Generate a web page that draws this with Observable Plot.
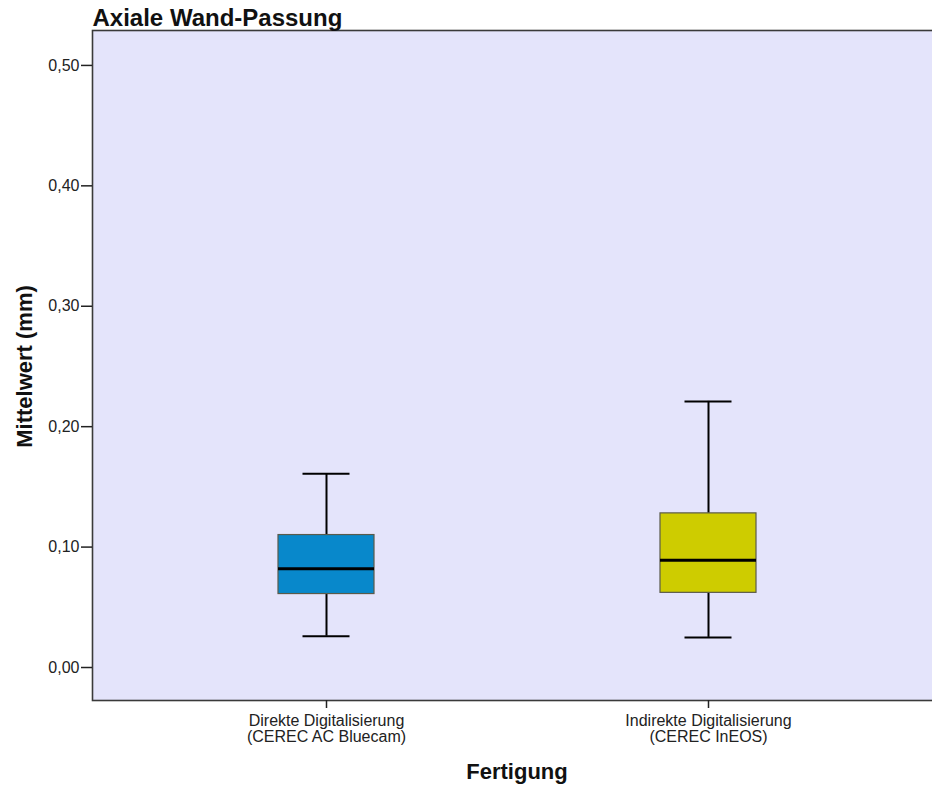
<!DOCTYPE html>
<html>
<head>
<meta charset="utf-8">
<script src="https://cdn.jsdelivr.net/npm/d3@7"></script>
<script src="https://cdn.jsdelivr.net/npm/@observablehq/plot@0.6"></script>
<style>
html, body { margin: 0; padding: 0; overflow: hidden; background: white; }
#chart { width: 932px; height: 790px; overflow: hidden; }
#chart svg { max-width: none !important; }
</style>
</head>
<body>
<div id="chart"></div>
<script>
const title = "Axiale Wand-Passung";
const yLabel = "Mittelwert (mm)";
const xLabel = "Fertigung";
const categories = ["Direkte Digitalisierung\n(CEREC AC Bluecam)", "Indirekte Digitalisierung\n(CEREC InEOS)"];
const mins = [0.026, 0.025];
const q1s = [0.061, 0.062];
const medians = [0.082, 0.089];
const q3s = [0.110, 0.128];
const maxs = [0.161, 0.221];
const colors = ["#0888cb", "#cecc00"];
const yTicks = [0, 0.1, 0.2, 0.3, 0.4, 0.5];

const data = categories.map((c, i) => ({cat: c, min: mins[i], q1: q1s[i], med: medians[i], q3: q3s[i], max: maxs[i], color: colors[i]}));

const chart = Plot.plot({
  width: 942,
  height: 790,
  marginTop: 30,
  marginBottom: 90,
  marginLeft: 92,
  marginRight: 1,
  style: {fontFamily: "'Liberation Sans', Arial, sans-serif", fontSize: "16px", background: "white", color: "#222", maxWidth: "none"},
  x: {domain: categories, paddingInner: 0.749, paddingOuter: 0.483, label: null},
  y: {domain: [-0.0274, 0.529], label: null},
  color: {type: "identity"},
  marks: [
    Plot.frame({fill: "#e4e4fb"}),
    Plot.ruleX(data, {x: "cat", y1: "min", y2: "q1", stroke: "black", strokeWidth: 2}),
    Plot.ruleX(data, {x: "cat", y1: "q3", y2: "max", stroke: "black", strokeWidth: 2}),
    Plot.tickY(data, {x: "cat", y: "min", stroke: "black", strokeWidth: 2, insetLeft: 24.5, insetRight: 24.5}),
    Plot.tickY(data, {x: "cat", y: "max", stroke: "black", strokeWidth: 2, insetLeft: 24.5, insetRight: 24.5}),
    Plot.barY(data, {x: "cat", y1: "q1", y2: "q3", fill: "color", stroke: "#5a5a4a", strokeWidth: 1.2}),
    Plot.tickY(data, {x: "cat", y: "med", stroke: "black", strokeWidth: 3}),
    Plot.frame({stroke: "#3a3a3a", strokeWidth: 1.6}),
    Plot.axisY({ticks: yTicks, tickFormat: d => d.toFixed(2).replace(".", ","), tickSize: 11, tickPadding: 2, label: null, stroke: "#222", strokeWidth: 1.5, fontSize: 16}),
    Plot.axisX({tickSize: 8, tickPadding: 6, label: null, stroke: "#222", strokeWidth: 1.5, fontSize: 16, lineHeight: 1.0}),
    Plot.text([title], {frameAnchor: "top-left", textAnchor: "start", lineAnchor: "bottom", dy: -5, fontWeight: "bold", fontSize: 24, fill: "#111"}),
    Plot.text([yLabel], {frameAnchor: "left", textAnchor: "middle", rotate: -90, dx: -68, dy: 1, fontWeight: "bold", fontSize: 22, fill: "#111"}),
    Plot.text([xLabel], {frameAnchor: "bottom", lineAnchor: "bottom", dy: 78, fontWeight: "bold", fontSize: 22, fill: "#111"})
  ]
});
chart.style.maxWidth = "none";
document.getElementById("chart").appendChild(chart);
</script>
</body>
</html>
